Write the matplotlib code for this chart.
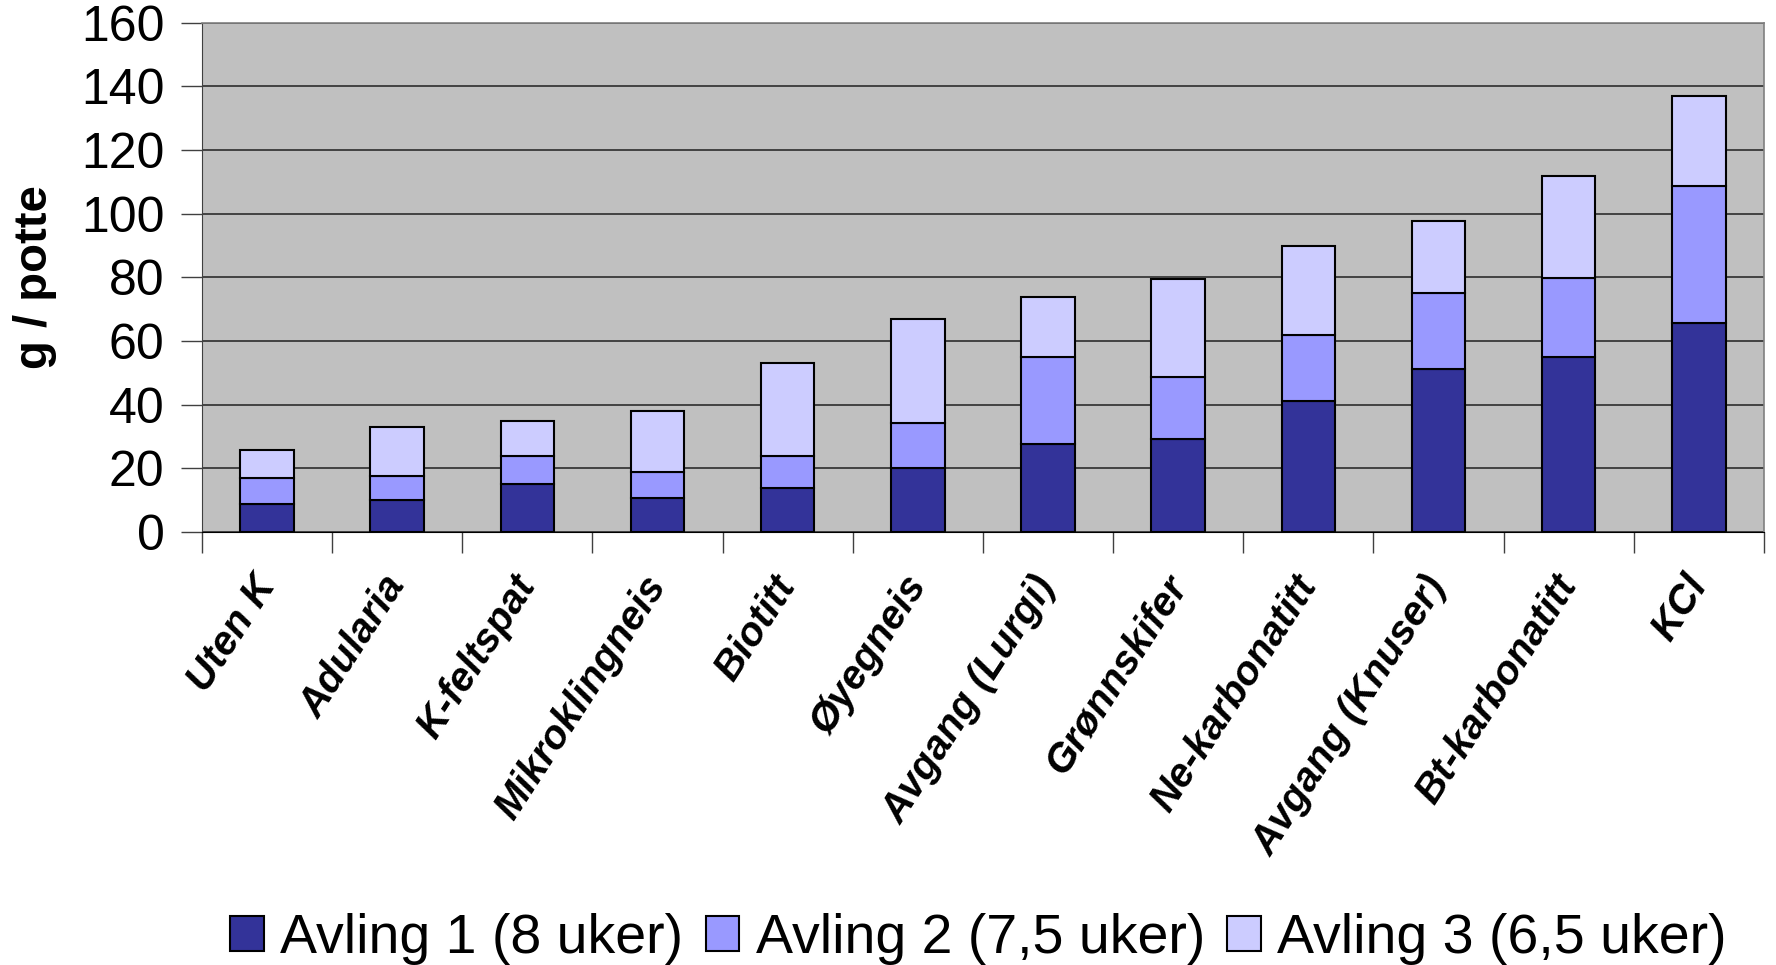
import matplotlib
matplotlib.use("Agg")
import matplotlib.pyplot as plt
import matplotlib.transforms as mtransforms
import numpy as np

categories = ["Uten K", "Adularia", "K-feltspat", "Mikroklingneis", "Biotitt",
              "Øyegneis", "Avgang (Lurgi)", "Grønnskifer", "Ne-karbonatitt",
              "Avgang (Knuser)", "Bt-karbonatitt", "KCl"]
avling1 = [8.7, 10.1, 15.2, 10.7, 13.9, 20.2, 27.7, 29.1, 41.0, 51.2, 54.9, 65.7]
avling2 = [8.4, 7.5, 8.8, 8.2, 10.1, 13.9, 27.2, 19.5, 20.8, 23.8, 24.8, 43.1]
avling3 = [8.8, 15.4, 10.8, 19.0, 29.0, 32.8, 19.0, 31.0, 28.0, 22.8, 32.1, 28.3]
series_names = ["Avling 1 (8 uker)", "Avling 2 (7,5 uker)", "Avling 3 (6,5 uker)"]
yticks = [0, 20, 40, 60, 80, 100, 120, 140, 160]

plt.rcParams['font.family'] = ['Liberation Sans', 'DejaVu Sans']

fig = plt.figure(figsize=(17.76, 9.65), dpi=100)
ax = fig.add_axes([0.1137, 0.4487, 0.8795, 0.5278])
ax.set_facecolor('#C0C0C0')

x = np.arange(len(categories))
w = 0.41
colors = ['#333399', '#9999FF', '#CCCCFF']
bottom = np.zeros(len(categories))
for vals, c, name in zip([avling1, avling2, avling3], colors, series_names):
    ax.bar(x, vals, w, bottom=bottom, color=c, edgecolor='black', linewidth=1.5,
           label=name, zorder=3)
    bottom += np.array(vals)

ax.set_xlim(-0.5, len(categories) - 0.5)
ax.set_ylim(0, 160)
ax.set_yticks(yticks)
ax.set_yticklabels([str(v) for v in yticks], fontsize=36)
ax.yaxis.grid(True, color='#202020', linewidth=1.1, zorder=1)
ax.set_axisbelow(True)
ax.tick_params(axis='y', length=15, width=1, color='#404040', pad=12)

ax.set_xticks(x)
ax.set_xticklabels(categories, rotation=57, ha='right', va='center',
                   rotation_mode='anchor', fontsize=29, fontweight='bold',
                   fontstyle='italic')
offset = mtransforms.ScaledTranslation(-8 / 100, 0, fig.dpi_scale_trans)
for lab in ax.get_xticklabels():
    lab.set_transform(lab.get_transform() + offset)
ax.set_xticks(np.arange(-0.5, len(categories)), minor=True)
ax.tick_params(axis='x', which='major', length=0, pad=34)
ax.tick_params(axis='x', which='minor', length=15, width=1, color='#404040')

for s in ['top', 'right']:
    ax.spines[s].set_color('#808080')
    ax.spines[s].set_linewidth(1.2)
ax.spines['left'].set_color('#404040')
ax.spines['bottom'].set_color('black')

ax.set_ylabel('g / potte', fontsize=34, fontweight='bold')
ax.yaxis.set_label_coords(-0.093, 0.5)

leg = fig.legend(loc='center', bbox_to_anchor=(0.551, 0.027), ncol=3, frameon=False,
                 fontsize=40, handlelength=0.6, handleheight=0.6,
                 handletextpad=0.3, columnspacing=0.4, borderaxespad=0)

fig.savefig('out.png', dpi=100)
